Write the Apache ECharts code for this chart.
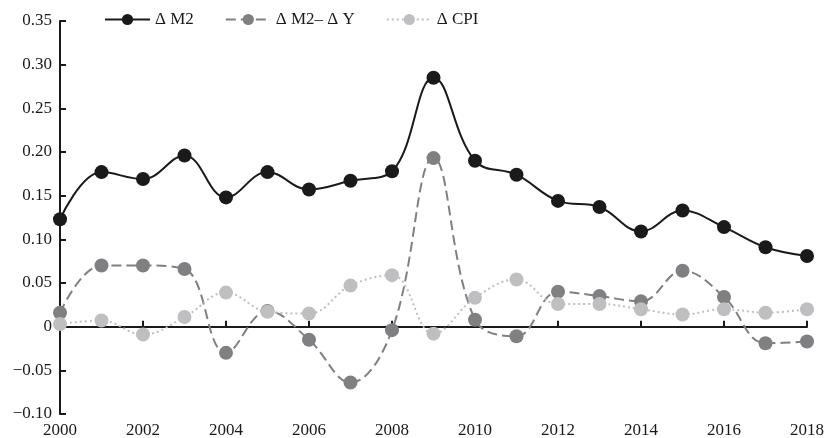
<!DOCTYPE html>
<html><head><meta charset="utf-8">
<script src="https://cdn.jsdelivr.net/npm/echarts@6/dist/echarts.min.js"></script>
<style>html,body{margin:0;padding:0;background:#fff}#c{width:828px;height:438px}</style>
</head><body><div id="c"></div>
<script>
const years = [2000,2001,2002,2003,2004,2005,2006,2007,2008,2009,2010,2011,2012,2013,2014,2015,2016,2017,2018];
const dM2 = [0.123,0.177,0.169,0.196,0.148,0.177,0.157,0.167,0.178,0.285,0.190,0.174,0.144,0.137,0.109,0.133,0.114,0.091,0.081];
const dM2dY = [0.016,0.070,0.070,0.066,-0.030,0.018,-0.015,-0.064,-0.004,0.193,0.008,-0.011,0.040,0.035,0.029,0.064,0.034,-0.019,-0.017];
const dCPI = [0.003,0.007,-0.009,0.011,0.039,0.017,0.015,0.047,0.059,-0.008,0.033,0.054,0.026,0.026,0.020,0.014,0.020,0.016,0.020];
const names = ['Δ M2','Δ M2– Δ Y','Δ CPI'];
const yTicks = {min:-0.10,max:0.35,interval:0.05};
const xTicks = {min:2000,max:2018,interval:2};

const pair = arr => years.map((y,i)=>[y,arr[i]]);
const font = '"Liberation Serif","DejaVu Serif",serif';
const chart = echarts.init(document.getElementById('c'),null,{renderer:'canvas'});
function mk(name,data,color,type,w){
  return {name,type:'line',data:pair(data),smooth:0.4,symbol:'circle',symbolSize:14,
    xAxisIndex:0,yAxisIndex:0,
    itemStyle:{color:color},lineStyle:{color:type==='solid'?'#1a1a1a':color,width:w,type:type},z:3};
}
chart.setOption({
  animation:false,
  textStyle:{fontFamily:font},
  grid:{left:60,right:21,top:21,bottom:24,containLabel:false,outerBoundsMode:'none'},
  legend:{left:99,top:6,itemWidth:45,itemHeight:14,itemGap:31,
    textStyle:{fontFamily:font,fontSize:17,color:'#1a1a1a'},data:names},
  xAxis:[
    {type:'value',min:xTicks.min,max:xTicks.max,interval:xTicks.interval,position:'bottom',
     axisLine:{show:false,onZero:false},axisTick:{show:false},splitLine:{show:false},
     axisLabel:{color:'#1a1a1a',fontSize:17,fontFamily:font,margin:8,formatter:v=>String(v)}},
    {type:'value',min:xTicks.min,max:xTicks.max,interval:xTicks.interval,position:'bottom',
     axisLine:{show:true,onZero:true,lineStyle:{color:'#1a1a1a',width:2}},
     axisTick:{show:true,inside:true,length:6,lineStyle:{color:'#1a1a1a',width:2}},
     axisLabel:{show:false},splitLine:{show:false}}
  ],
  yAxis:{type:'value',min:yTicks.min,max:yTicks.max,interval:yTicks.interval,
    axisLine:{show:true,onZero:false,lineStyle:{color:'#1a1a1a',width:2}},
    axisTick:{show:true,inside:true,length:6,lineStyle:{color:'#1a1a1a',width:2}},
    splitLine:{show:false},
    axisLabel:{color:'#1a1a1a',fontSize:17,fontFamily:font,margin:8,
      formatter:v=>{const r=Math.round(v*100)/100; if(r===0) return '0'; return (r<0?'−':'')+Math.abs(r).toFixed(2);}}},
  series:[
    mk(names[0],dM2,'#1a1a1a','solid',2),
    mk(names[1],dM2dY,'#808082',[10,5],2),
    mk(names[2],dCPI,'#bfbfc1',[2,3],2)
  ]
});
</script></body></html>
